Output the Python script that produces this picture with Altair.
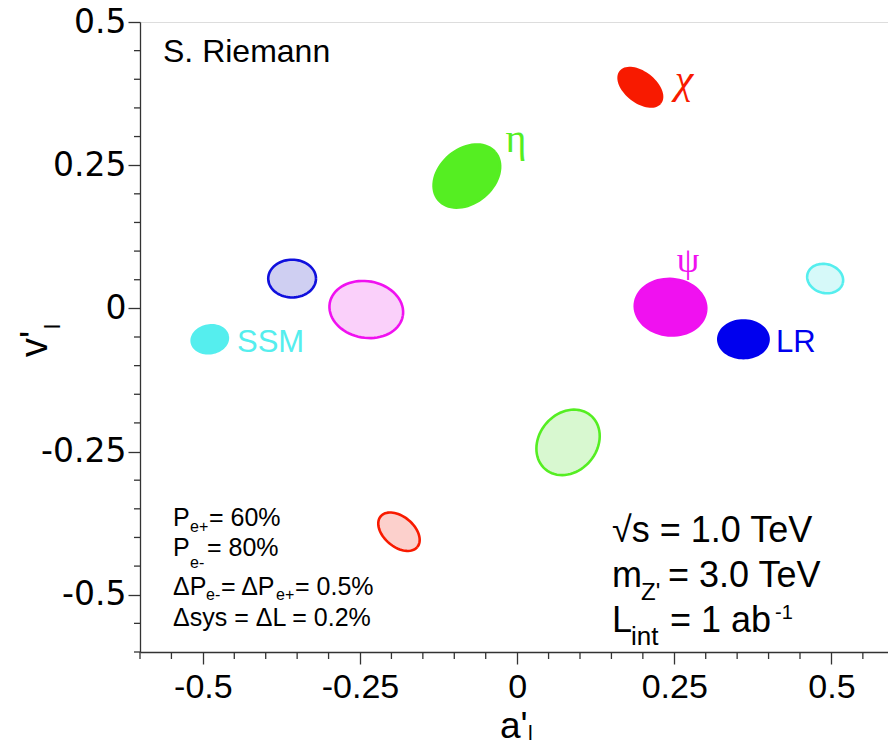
import altair as alt
import numpy as np
import pandas as pd

# ---------------- data: fit contours (centre, semi-axes, tilt) ----------------
ell_id = ["chi", "eta", "psi", "LR", "SSM", "LR_h", "psi_h", "SSM_h", "eta_h", "chi_h"]
ell_cx = [0.196, -0.080, 0.244, 0.360, -0.489, -0.358, -0.240, 0.490, 0.081, -0.188]
ell_cy = [0.386, 0.231, 0.002, -0.054, -0.054, 0.052, -0.002, 0.052, -0.234, -0.390]
ell_a = [0.040, 0.059, 0.057, 0.040, 0.029, 0.038, 0.059, 0.029, 0.056, 0.038]
ell_b = [0.023, 0.043, 0.045, 0.030, 0.022, 0.030, 0.045, 0.023, 0.046, 0.024]
ell_tilt = [-38, 40, -5, 0, 10, 0, -10, -15, 50, -40]
ell_stroke = ["#f81a00", "#55ee22", "#f011f0", "#0000ee", "#55eeee",
              "#1010dd", "#f011f0", "#55eeee", "#55ee22", "#f81a00"]
ell_fill = ["#f81a00", "#55ee22", "#f011f0", "#0000ee", "#55eeee",
            "#cfcff2", "#fad0fa", "#d6f9f9", "#d8f8d0", "#fcd0cc"]

x_major = [-0.5, -0.25, 0, 0.25, 0.5]
y_major = [-0.5, -0.25, 0, 0.25, 0.5]
x_minor = [-0.6, -0.55, -0.45, -0.4, -0.35, -0.3, -0.2, -0.15, -0.1, -0.05,
           0.05, 0.1, 0.15, 0.2, 0.3, 0.35, 0.4, 0.45, 0.55]
y_minor = [-0.6, -0.55, -0.45, -0.4, -0.35, -0.3, -0.2, -0.15, -0.1, -0.05,
           0.05, 0.1, 0.15, 0.2, 0.3, 0.35, 0.4, 0.45]

W, H = 748, 630
XD = [-0.6, 0.59]
YD = [-0.6, 0.5]
SX = W / (XD[1] - XD[0])
SY = H / (YD[1] - YD[0])
OX, OY = 140, 22  # page position of plot origin


def to_dx(px):
    return XD[0] + (px - OX) / SX


def to_dy(py):
    return YD[1] - (py - OY) / SY


rows = []
t = np.linspace(0, 2 * np.pi, 73)
for i, name in enumerate(ell_id):
    a_px = ell_a[i] * SX
    b_px = ell_b[i] * SX
    th = np.deg2rad(ell_tilt[i])
    u = a_px * np.cos(t)
    v = b_px * np.sin(t)
    du = u * np.cos(th) - v * np.sin(th)
    dv = u * np.sin(th) + v * np.cos(th)
    for k in range(len(t)):
        rows.append({"id": name, "k": k,
                     "x": ell_cx[i] + du[k] / SX,
                     "y": ell_cy[i] + dv[k] / SY,
                     "stroke": ell_stroke[i], "fill": ell_fill[i]})
df_e = pd.DataFrame(rows)

xs = alt.Scale(domain=XD, nice=False, zero=False)
ys = alt.Scale(domain=YD, nice=False, zero=False)
AX_COL = "#333333"
xa = alt.Axis(values=x_major, tickSize=12, tickColor=AX_COL, domainColor=AX_COL,
              domainWidth=1.3, tickWidth=1.3, labelExpr="datum.value + ''",
              labelFont="Liberation Sans", labelFontSize=34, labelColor="black",
              labelBaseline="alphabetic", labelPadding=33, labelOverlap=False,
              grid=False, title=None)
ya = alt.Axis(values=y_major, tickSize=12, tickColor=AX_COL, domainColor=AX_COL,
              domainWidth=1.3, tickWidth=1.3, labelExpr="datum.value + ''",
              labelFont="DejaVu Sans", labelFontSize=33, labelColor="black",
              labelPadding=2, labelOverlap=False, grid=False, title=None)

ellipses = alt.Chart(df_e).mark_line(strokeWidth=2.6).encode(
    x=alt.X("x:Q", scale=xs, axis=xa),
    y=alt.Y("y:Q", scale=ys, axis=ya),
    detail="id:N",
    order="k:Q",
    stroke=alt.Stroke("stroke:N", scale=None),
    fill=alt.Fill("fill:N", scale=None),
)

minx = alt.Chart(pd.DataFrame({"v": x_minor})).mark_rule(
    color=AX_COL, strokeWidth=1.3).encode(
    x=alt.X("v:Q", scale=xs, axis=xa), y=alt.value(H), y2=alt.value(H + 7))
miny = alt.Chart(pd.DataFrame({"v": y_minor})).mark_rule(
    color=AX_COL, strokeWidth=1.3).encode(
    y=alt.Y("v:Q", scale=ys, axis=ya), x=alt.value(0), x2=alt.value(-6))

# ---------------- annotations (page pixel anchors) ----------------
sans_txt = [
    ("S. Riemann", 163, 62, 32, "black"),
    ("SSM", 237, 352, 31, "#55eeee"),
    ("LR", 776, 352, 31, "#0000ee"),
    ("P", 173, 526, 25, "black"), ("e+", 190, 532, 16, "black"), ("= 60%", 209, 526, 25, "black"),
    ("P", 173, 556, 25, "black"), ("e-", 190, 568, 16, "black"), ("= 80%", 207, 556, 25, "black"),
    ("ΔP", 173, 595, 25, "black"), ("e-", 206, 600, 16, "black"), ("= ΔP", 221, 595, 25, "black"),
    ("e+", 276, 600, 16, "black"), ("= 0.5%", 295, 595, 25, "black"),
    ("Δsys = ΔL = 0.2%", 173, 626, 25, "black"),
    ("√s = 1.0 TeV", 612, 542, 36, "black"),
    ("m", 612, 587, 36, "black"), ("Z'", 641, 600, 24, "black"), ("= 3.0 TeV", 668, 587, 36, "black"),
    ("L", 612, 632, 36, "black"), ("int", 631, 645, 26, "black"), ("= 1 ab", 670, 632, 36, "black"),
    ("-1", 775, 619, 20, "black"),
    ("a'", 500, 738, 37, "black"), ("l", 528, 740, 21, "black"),
]
greek_up = [
    ("η", 516, 152, 40, "#55ee22"),
    ("ψ", 688, 272, 36, "#f011f0"),
]
greek_it = [
    ("χ", 684, 93, 42, "#f81a00"),
]
rot_txt = [
    ("v'", 47, 357, 38, "black"),
    ("l", 60, 329, 22, "black"),
]


def tdf(items):
    return pd.DataFrame({
        "text": [r[0] for r in items],
        "x": [to_dx(r[1]) for r in items],
        "y": [to_dy(r[2]) for r in items],
        "size": [r[3] for r in items],
        "color": [r[4] for r in items],
    })


def tlayer(items, **mk):
    return alt.Chart(tdf(items)).mark_text(baseline="alphabetic", **mk).encode(
        x=alt.X("x:Q", scale=xs, axis=xa),
        y=alt.Y("y:Q", scale=ys, axis=ya),
        text="text:N",
        size=alt.Size("size:Q", scale=None),
        color=alt.Color("color:N", scale=None),
    )


t_sans = tlayer(sans_txt, align="left", font="Liberation Sans")
t_greek = tlayer(greek_up, align="center", font="Liberation Serif")
t_chi = tlayer(greek_it, align="center", font="Liberation Serif", fontStyle="italic")
t_rot = tlayer(rot_txt, align="left", font="Liberation Sans", angle=270)

chart = alt.layer(ellipses, minx, miny, t_sans, t_greek, t_chi, t_rot).properties(
    width=W, height=H,
    autosize=alt.AutoSizeParams(type="none"),
    padding={"left": OX - 8, "top": OY - 8, "right": 0, "bottom": 88},
).configure_view(stroke=None).configure(background="white")

chart.save("out.html", embed_options={"renderer": "svg", "actions": False})
